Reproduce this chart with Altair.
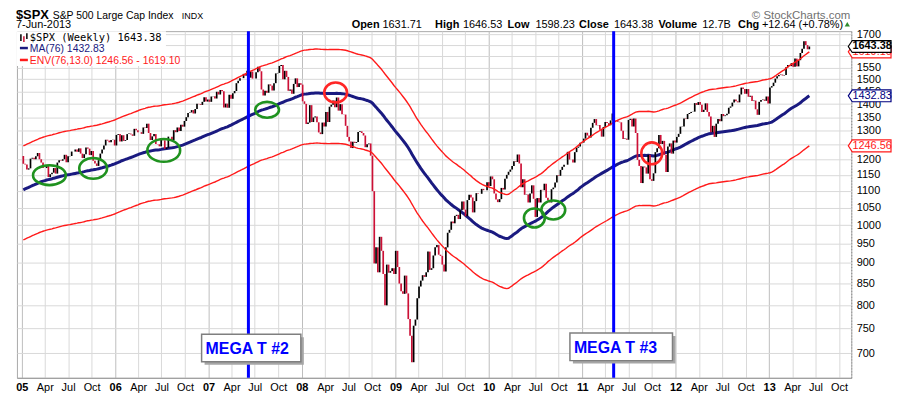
import altair as alt
import pandas as pd
import numpy as np

# ---------------- weekly closes of $SPX (Friday closes, read/estimated) -------------
# starts 2003-07-25 so that the 76-week average exists from the first week of 2005
closes_2003 = [998, 980, 977, 990, 993, 1008, 1021, 1018, 1036, 996, 1029, 1038, 1039,
               1028, 1050, 1053, 1050, 1035, 1058, 1061, 1074, 1088, 1095]
closes_2004 = [1108, 1122, 1139, 1141, 1131, 1142, 1146, 1144, 1145, 1156, 1120, 1110, 1108,
               1141, 1139, 1135, 1140, 1107, 1098, 1095, 1093, 1121, 1123, 1136, 1135, 1134,
               1125, 1112, 1101, 1086, 1102, 1063, 1064, 1099, 1107, 1114, 1124, 1128, 1110,
               1131, 1122, 1109, 1095, 1130, 1166, 1184, 1170, 1182, 1191, 1189, 1194, 1211, 1212]
closes_2005 = [1186, 1184, 1167, 1171, 1203, 1206, 1201, 1211, 1222, 1201, 1190, 1172,
               1172, 1182, 1143, 1152, 1157, 1172, 1154, 1190, 1198, 1196, 1201, 1216, 1191,
               1211, 1212, 1227, 1227, 1234, 1226, 1238, 1220, 1205, 1218, 1241, 1237, 1215, 1229,
               1196, 1187, 1179, 1198, 1220, 1234, 1248, 1268, 1265, 1259, 1267, 1268, 1248]
closes_2006 = [1285, 1288, 1262, 1284, 1264, 1267, 1288, 1290, 1287, 1282, 1307, 1302, 1295,
               1295, 1289, 1312, 1310, 1326, 1292, 1267, 1280, 1288, 1253, 1252, 1245, 1270,
               1266, 1236, 1240, 1279, 1279, 1266, 1302, 1295, 1312, 1299, 1322, 1315, 1336,
               1350, 1366, 1368, 1377, 1364, 1381, 1401, 1400, 1397, 1409, 1427, 1410, 1418]
closes_2007 = [1409, 1430, 1431, 1422, 1449, 1438, 1456, 1451, 1387, 1402, 1386, 1437, 1421,
               1443, 1452, 1484, 1494, 1505, 1505, 1523, 1515, 1536, 1507, 1533, 1503, 1503,
               1530, 1553, 1534, 1458, 1434, 1453, 1445, 1479, 1474, 1454, 1484, 1525, 1527,
               1557, 1561, 1500, 1536, 1510, 1453, 1458, 1441, 1481, 1504, 1468, 1484, 1478]
closes_2008 = [1411, 1401, 1325, 1330, 1396, 1332, 1349, 1353, 1331, 1294, 1288, 1330, 1316,
               1370, 1332, 1390, 1398, 1414, 1388, 1426, 1375, 1400, 1361, 1360, 1318, 1278,
               1262, 1239, 1261, 1257, 1260, 1296, 1298, 1292, 1283, 1242, 1252, 1255, 1213,
               1099, 899, 940, 877, 968, 931, 873, 800, 896, 876, 880, 887, 873]
closes_2009 = [931, 890, 850, 832, 826, 869, 827, 770, 735, 683, 756, 769, 816,
               843, 857, 870, 866, 877, 929, 883, 887, 919, 940, 946, 921, 918,
               896, 879, 940, 979, 987, 1010, 1005, 1026, 1029, 1017, 1042, 1068, 1044,
               1025, 1072, 1088, 1080, 1036, 1069, 1093, 1091, 1091, 1106, 1102, 1102, 1127]
closes_2010 = [1115, 1145, 1136, 1092, 1074, 1066, 1075, 1109, 1104, 1138, 1150, 1160, 1167,
               1179, 1194, 1192, 1217, 1187, 1111, 1136, 1088, 1089, 1065, 1092, 1117, 1076,
               1023, 1078, 1065, 1103, 1102, 1122, 1079, 1071, 1065, 1105, 1110, 1126, 1149,
               1147, 1166, 1176, 1183, 1183, 1226, 1200, 1200, 1190, 1225, 1240, 1244, 1257, 1258]
closes_2011 = [1272, 1293, 1283, 1276, 1311, 1329, 1343, 1320, 1321, 1304, 1279, 1314,
               1332, 1328, 1320, 1338, 1364, 1340, 1338, 1333, 1331, 1300, 1271, 1272, 1268,
               1340, 1344, 1316, 1345, 1292, 1199, 1179, 1124, 1177, 1174, 1154, 1216, 1136, 1131,
               1155, 1225, 1238, 1285, 1253, 1264, 1216, 1159, 1244, 1255, 1220, 1265, 1258]
closes_2012 = [1278, 1289, 1315, 1316, 1345, 1343, 1362, 1366, 1370, 1371, 1404, 1397, 1408,
               1398, 1370, 1378, 1403, 1370, 1353, 1295, 1318, 1278, 1326, 1343, 1335, 1362,
               1354, 1357, 1363, 1386, 1391, 1406, 1418, 1411, 1407, 1438, 1466, 1460, 1441,
               1460, 1429, 1433, 1412, 1414, 1380, 1359, 1409, 1416, 1418, 1413, 1430, 1402]
closes_2013 = [1466, 1472, 1486, 1503, 1513, 1518, 1520, 1516, 1518, 1551, 1561, 1556, 1569,
               1553, 1589, 1555, 1582, 1614, 1633, 1668, 1650, 1630.74, 1643.38]

first_week = "2003-07-25"
show_from = "2005-01-01"
ma_weeks = 76
env_pct = 0.13

# header / legend values
last_close, ma_last, env_low, env_high = 1643.38, 1432.83, 1246.56, 1619.10
header_pieces = [("Open", True), ("1631.71", False), ("High", True), ("1646.53", False),
                 ("Low", True), ("1598.23", False), ("Close", True), ("1643.38", False),
                 ("Volume", True), ("12.7B", False), ("Chg", True), ("+12.64 (+0.78%)", False)]

# annotations
mega_dates = ["2007-06-06", "2011-05-04"]
mega_labels = ["MEGA T #2", "MEGA T #3"]
mega_box_start = ["2006-12-05", "2010-11-14"]
mega_box_end = ["2007-12-28", "2011-12-20"]
mega_box_top = [738, 741]
mega_box_bottom = [684, 686]
mega_box_mid = [711, 713]

circle_dates = ["2005-04-19", "2005-10-07", "2006-07-10", "2007-08-18",
                "2008-05-12", "2010-06-28", "2010-09-10", "2011-09-30"]
circle_values = [1149, 1171, 1231, 1378, 1446, 1020, 1043, 1221]
circle_kind = ["g", "g", "g", "g", "r", "g", "g", "r"]
circle_w = [33, 28, 33, 24, 23, 21, 24, 21]
circle_h = [20, 21, 23, 16, 20, 19, 19, 22]

# ---------------- build tables ----------------
all_closes = (closes_2003 + closes_2004 + closes_2005 + closes_2006 + closes_2007 +
              closes_2008 + closes_2009 + closes_2010 + closes_2011 + closes_2012 + closes_2013)
dates = pd.date_range(first_week, periods=len(all_closes), freq="W-FRI")
df = pd.DataFrame({"date": dates, "close": all_closes})
df["prev"] = df["close"].shift(1)
df["ma"] = df["close"].rolling(ma_weeks).mean()
df["env_hi"] = df["ma"] * (1 + env_pct)
df["env_lo"] = df["ma"] * (1 - env_pct)
df["dir"] = np.where(df["close"] >= df["prev"], "up", "down")
df = df[df["date"] >= show_from].copy()
df["date"] = df["date"].dt.strftime("%Y-%m-%d")

FONT = "Liberation Sans"
W, H = 840, 349

x_scale = alt.Scale(type="utc",
                    domain=[alt.DateTime(year=2004, month=12, date=13, utc=True),
                            alt.DateTime(year=2013, month=11, date=18, utc=True)])
x_axis = alt.Axis(
    title=None,
    values=[alt.DateTime(year=y, month=m, date=1, utc=True)
            for y in range(2005, 2014) for m in (1, 4, 7, 10)],
    labelExpr="utcmonth(datum.value) == 0 ? utcFormat(datum.value, '%y') : utcFormat(datum.value, '%b')",
    labelFontWeight={"condition": {"test": "utcmonth(datum.value) == 0", "value": "bold"}, "value": "normal"},
    labelFont=FONT, labelFontSize=11, labelColor="black", labelPadding=4,
    labelOverlap=False, labelFlush=False, ticks=False,
    grid=True,
    gridColor={"condition": {"test": "utcmonth(datum.value) == 0", "value": "#bdbdbd"}, "value": "#d9d9d9"},
    domainColor="#9a9a9a",
)
y_scale = alt.Scale(type="log", domain=[654, 1715], nice=False, zero=False)
y_axis = alt.Axis(
    title=None, orient="right", values=list(range(700, 1701, 50)), format="d",
    labelExpr="(datum.value == 1650 || datum.value == 1600 || datum.value == 1250) ? '' : datum.label",
    labelFont=FONT, labelFontSize=11, labelColor="black", labelPadding=5,
    ticks=False, grid=True, gridColor="#d9d9d9", domainColor="#888888", domainDash=[1, 2],
    labelOverlap=False,
)


def X(field):
    return alt.X(field + ":T", scale=x_scale, axis=x_axis)


def Y(field):
    return alt.Y(field + ":Q", scale=y_scale, axis=y_axis)


dummy = pd.DataFrame({"k": [0]})


def txt(s, x, y, size=11, weight="normal", color="black", font=FONT, align="left", baseline="alphabetic"):
    return alt.Chart(dummy).mark_text(
        text=s, fontSize=size, fontWeight=weight, color=color, font=font,
        align=align, baseline=baseline).encode(x=alt.value(x), y=alt.value(y))


layers = []

# MA, price bars (previous close -> close), envelope
layers.append(alt.Chart(df).mark_line(color="#1a1a80", strokeWidth=3).encode(x=X("date"), y=Y("ma")))
layers.append(alt.Chart(df).mark_rule(strokeWidth=1.7).encode(
    x=X("date"), y=Y("prev"), y2="close:Q",
    color=alt.Color("dir:N", scale=alt.Scale(domain=["up", "down"], range=["#000000", "#cc1036"]), legend=None)))
layers.append(alt.Chart(df).mark_line(color="#ff1a1a", strokeWidth=1.4).encode(x=X("date"), y=Y("env_hi")))
layers.append(alt.Chart(df).mark_line(color="#ff1a1a", strokeWidth=1.4).encode(x=X("date"), y=Y("env_lo")))

# blue vertical lines
vl = pd.DataFrame({"date": mega_dates})
layers.append(alt.Chart(vl).mark_rule(color="#0000ff", strokeWidth=3).encode(x=X("date")))

# ellipses
for d, v, k, w, h in zip(circle_dates, circle_values, circle_kind, circle_w, circle_h):
    a = h / w
    path = f"M-1,0A1,{a:.3f} 0 1,0 1,0A1,{a:.3f} 0 1,0 -1,0Z"
    col = "#1f921f" if k == "g" else "#ff2626"
    layers.append(alt.Chart(pd.DataFrame({"date": [d], "v": [v]})).mark_point(
        shape=path, size=w * w, filled=False, stroke=col, strokeWidth=2.6, opacity=1
    ).encode(x=X("date"), y=Y("v")))

# MEGA T boxes
boxes = pd.DataFrame({"date": mega_box_start, "x2": mega_box_end, "top": mega_box_top,
                      "bot": mega_box_bottom, "mid": mega_box_mid, "label": mega_labels})
layers.append(alt.Chart(boxes).mark_rect(color="#a6a6a6", xOffset=3, x2Offset=3, yOffset=3, y2Offset=3).encode(
    x=X("date"), x2="x2:T", y=Y("top"), y2="bot:Q"))
layers.append(alt.Chart(boxes).mark_rect(fill="white", stroke="#7f7f7f", strokeWidth=1.5).encode(
    x=X("date"), x2="x2:T", y=Y("top"), y2="bot:Q"))
layers.append(alt.Chart(boxes).mark_text(align="left", baseline="middle", dx=4, dy=1, font=FONT,
                                         fontSize=16, fontWeight="bold", color="#0000ff").encode(
    x=X("date"), y=Y("mid"), text="label:N"))

# legend box inside the plot
layers.append(alt.Chart(dummy).mark_rect(fill="white").encode(
    x=alt.value(0), x2=alt.value(150), y=alt.value(0), y2=alt.value(35)))
layers.append(alt.Chart(dummy).mark_rule(color="black", strokeWidth=1.5).encode(
    x=alt.value(4), y=alt.value(3), y2=alt.value(10)))
layers.append(alt.Chart(dummy).mark_rule(color="#cc1036", strokeWidth=1.5).encode(
    x=alt.value(7), y=alt.value(5), y2=alt.value(11)))
layers.append(alt.Chart(dummy).mark_rule(color="black", strokeWidth=1.5).encode(
    x=alt.value(10), y=alt.value(2), y2=alt.value(8)))
layers.append(txt(f"$SPX (Weekly) {last_close:.2f}", 13, 10, size=10.5, font="DejaVu Sans Mono"))
layers.append(alt.Chart(dummy).mark_rule(color="#1a1a80", strokeWidth=2.5).encode(
    x=alt.value(3), x2=alt.value(11), y=alt.value(17)))
layers.append(txt(f"MA({ma_weeks}) {ma_last:.2f}", 13, 21, size=10.5, color="#1a1a80"))
layers.append(alt.Chart(dummy).mark_rule(color="#ff1a1a", strokeWidth=2.5).encode(
    x=alt.value(3), x2=alt.value(11), y=alt.value(29)))
layers.append(txt(f"ENV({ma_weeks},{env_pct*100:.1f}) {env_low:.2f} - {env_high:.2f}", 13, 33,
                  size=10.5, color="#ff1a1a"))

# header
layers.append(txt("$SPX", -1, -12, size=13, weight="bold"))
layers.append(txt("S&P 500 Large Cap Index", 36, -12.5, size=10.5))
layers.append(txt("INDX", 166, -12.5, size=9))
layers.append(txt("7-Jun-2013", -1, -3, size=11))
layers.append(txt("\u00a9 StockCharts.com", 839, -12.5, size=11.5, color="#707070", align="right"))
hx = [337, 368, 421, 449, 494, 522, 566, 601, 646, 690, 726, 750]
for (s, b), xx in zip(header_pieces, hx):
    layers.append(txt(s, xx, -3, size=11, weight="bold" if b else "normal"))
layers.append(alt.Chart(dummy).mark_point(shape="triangle-up", size=28, filled=True, color="#2e8b2e", opacity=1).encode(
    x=alt.value(836), y=alt.value(-7)))

# price tags on the right axis
TAG = "M-22,0L-18,-6L21,-6L21,6L-18,6Z"
tags = [(env_high, "#ff1a1a", "normal"), (last_close, "black", "bold"),
        (ma_last, "#000080", "normal"), (env_low, "#ff1a1a", "normal")]
for v, col, wt in tags:
    tdf = pd.DataFrame({"v": [v], "label": [f"{v:.2f}"]})
    layers.append(alt.Chart(tdf).mark_point(shape=TAG, size=4, filled=True, fill="white", stroke=col,
                                            strokeWidth=1.2, opacity=1).encode(x=alt.value(859), y=Y("v")))
    layers.append(alt.Chart(tdf).mark_text(font=FONT, fontSize=11, fontWeight=wt, color=col,
                                           align="center", baseline="middle", dx=1).encode(
        x=alt.value(860), y=Y("v"), text="label:N"))

chart = alt.layer(*layers).properties(
    width=W, height=H,
    autosize=alt.AutoSizeParams(type="none"),
    padding={"left": 9, "top": 22, "right": 41, "bottom": 17},
    background="white",
).configure_view(stroke="#a8a8a8", strokeWidth=1)

chart.save("out.html", embed_options={"renderer": "svg", "actions": False})
